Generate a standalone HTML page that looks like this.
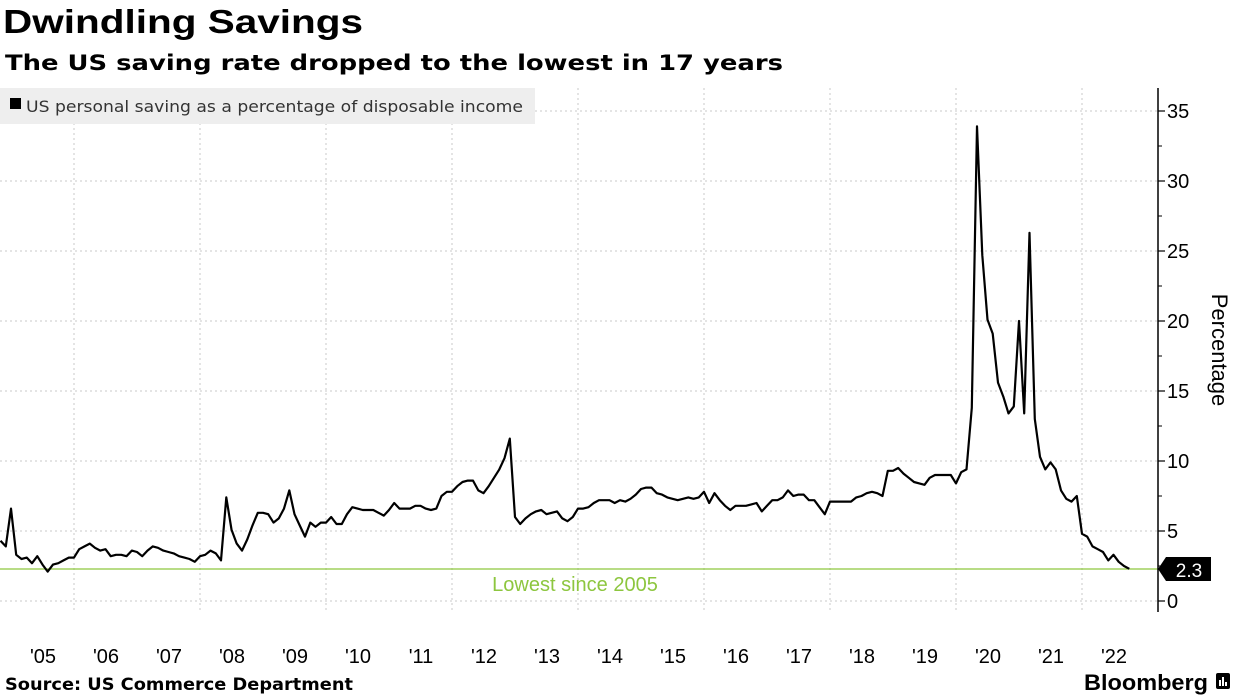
<!DOCTYPE html>
<html><head><meta charset="utf-8"><style>
html,body{margin:0;padding:0;background:#fff;}
svg{display:block;font-family:"Liberation Sans",sans-serif;}
</style></head><body>
<svg id="chart" width="1240" height="697" viewBox="0 0 1240 697">
<text x="3" y="33" font-size="33" font-weight="bold" fill="#000" textLength="360" lengthAdjust="spacingAndGlyphs">Dwindling Savings</text>
<text x="5" y="70" font-family="DejaVu Sans, sans-serif" font-size="21" font-weight="bold" fill="#000" textLength="778" lengthAdjust="spacingAndGlyphs">The US saving rate dropped to the lowest in 17 years</text>
<g id="grid"></g>
<rect x="0" y="88" width="535" height="36" fill="#eeeeee"/>
<rect x="10" y="98" width="11" height="11" fill="#000"/>
<text x="26" y="112" font-family="DejaVu Sans, sans-serif" font-size="16" fill="#333" textLength="497" lengthAdjust="spacingAndGlyphs">US personal saving as a percentage of disposable income</text>
<line x1="0" y1="569" x2="1158" y2="569" stroke="#8dc63f" stroke-width="1.2"/>
<text x="575" y="591" text-anchor="middle" font-size="20" fill="#8dc63f">Lowest since 2005</text>
<path id="series" fill="none" stroke="#000" stroke-width="2.2" stroke-linejoin="round"/>
<line x1="1158" y1="88" x2="1158" y2="612" stroke="#000" stroke-width="1.5"/>
<g id="yticks"></g>
<g id="xticks"></g>
<text transform="translate(1212,350) rotate(90)" text-anchor="middle" font-size="22" fill="#000">Percentage</text>
<path d="M1158,569 L1166,557 L1211,557 L1211,581 L1166,581 Z" fill="#000"/>
<text x="1189" y="577" text-anchor="middle" font-size="19" fill="#fff">2.3</text>
<text x="5" y="690" font-family="DejaVu Sans, sans-serif" font-size="17" font-weight="bold" fill="#000" textLength="348" lengthAdjust="spacingAndGlyphs">Source: US Commerce Department</text>
<text x="1084" y="690" font-size="22" font-weight="bold" fill="#000" textLength="124" lengthAdjust="spacingAndGlyphs">Bloomberg</text>
<g><rect x="1216" y="673" width="14" height="16" rx="2" fill="#000"/><rect x="1219" y="680" width="2" height="6" fill="#fff"/><rect x="1222" y="677" width="2" height="9" fill="#fff"/><rect x="1225" y="682" width="2" height="4" fill="#fff"/></g>
</svg>
<script>
const startYear = 2004, startMonth = 10; // Nov 2004 (0-based month)
const values = [4.3,3.9,
6.6,3.3,3.0,3.1,2.7,3.2,2.6,2.1,2.6,2.7,2.9,3.1,
3.1,3.7,3.9,4.1,3.8,3.6,3.7,3.2,3.3,3.3,3.2,3.6,
3.5,3.2,3.6,3.9,3.8,3.6,3.5,3.4,3.2,3.1,3.0,2.8,
3.2,3.3,3.6,3.4,2.9,7.4,5.1,4.1,3.6,4.4,5.4,6.3,
6.3,6.2,5.6,5.9,6.6,7.9,6.2,5.4,4.6,5.6,5.3,5.6,
5.6,6.0,5.5,5.5,6.2,6.7,6.6,6.5,6.5,6.5,6.3,6.1,
6.5,7.0,6.6,6.6,6.6,6.8,6.8,6.6,6.5,6.6,7.5,7.8,
7.8,8.2,8.5,8.6,8.6,7.9,7.7,8.2,8.8,9.4,10.2,11.6,
6.0,5.5,5.9,6.2,6.4,6.5,6.2,6.3,6.4,5.9,5.7,6.0,
6.6,6.6,6.7,7.0,7.2,7.2,7.2,7.0,7.2,7.1,7.3,7.6,
8.0,8.1,8.1,7.7,7.6,7.4,7.3,7.2,7.3,7.4,7.3,7.4,
7.8,7.0,7.7,7.2,6.8,6.5,6.8,6.8,6.8,6.9,7.0,6.4,
6.8,7.2,7.2,7.4,7.9,7.5,7.6,7.6,7.2,7.2,6.7,6.2,
7.1,7.1,7.1,7.1,7.1,7.4,7.5,7.7,7.8,7.7,7.5,9.3,
9.3,9.5,9.1,8.8,8.5,8.4,8.3,8.8,9.0,9.0,9.0,9.0,
8.4,9.2,9.4,13.8,33.9,24.7,20.1,19.1,15.6,14.6,13.4,13.9,
20.0,13.4,26.3,13.0,10.3,9.4,9.9,9.4,7.9,7.3,7.1,7.5,
4.8,4.6,3.9,3.7,3.5,2.9,3.3,2.8,2.5,2.3];
const yTicks = [0,5,10,15,20,25,30,35];
const xYears = ["'05","'06","'07","'08","'09","'10","'11","'12","'13","'14","'15","'16","'17","'18","'19","'20","'21","'22"];
const gridYears = [2006,2008,2010,2012,2014,2016,2018,2020,2022];

const NS="http://www.w3.org/2000/svg";
function xOfYear(y){return 11+(y-2005)*63;}
function xOfIndex(i){return xOfYear(startYear+(startMonth+i)/12);}
function yScale(v){return 601-v*14;}
function mk(tag,attrs,parent){const e=document.createElementNS(NS,tag);for(const k in attrs)e.setAttribute(k,attrs[k]);parent.appendChild(e);return e;}

const grid=document.getElementById('grid');
yTicks.forEach(t=>{
  const l=mk('line',{x1:0,x2:1158,y1:yScale(t),y2:yScale(t),stroke:'#c8c8c8','stroke-dasharray':'2,3','stroke-width':1},grid);
  
  
});
gridYears.forEach(g=>{
  const l=mk('line',{x1:xOfYear(g),x2:xOfYear(g),y1:88,y2:612,stroke:'#c8c8c8','stroke-dasharray':'2,3','stroke-width':1},grid);
  
  
});
const yt=document.getElementById('yticks');
yTicks.forEach((t,i)=>{
  const l=mk('line',{x1:1158,x2:1165,y1:yScale(t),y2:yScale(t),stroke:'#000','stroke-width':1.2},yt);
  
  
  if(i<yTicks.length-1){
    const m=mk('line',{x1:1158,x2:1162,y1:yScale(t+2.5),y2:yScale(t+2.5),stroke:'#000','stroke-width':1},yt);
    
    
  }
  const tx=mk('text',{x:1167,y:yScale(t)+7,'font-size':20,fill:'#000'},yt);
  tx.textContent=t;
  
  
});
const xt=document.getElementById('xticks');
xYears.forEach((lab,i)=>{
  const tx=mk('text',{x:xOfYear(2005+i)+32,y:663,'text-anchor':'middle','font-size':20,fill:'#000'},xt);
  tx.textContent=lab;
  
  
});
let d='';
values.forEach((v,i)=>{d+=(i?'L':'M')+xOfIndex(i).toFixed(1)+','+yScale(v).toFixed(1);});
document.getElementById('series').setAttribute('d',d);
</script>
</body></html>
